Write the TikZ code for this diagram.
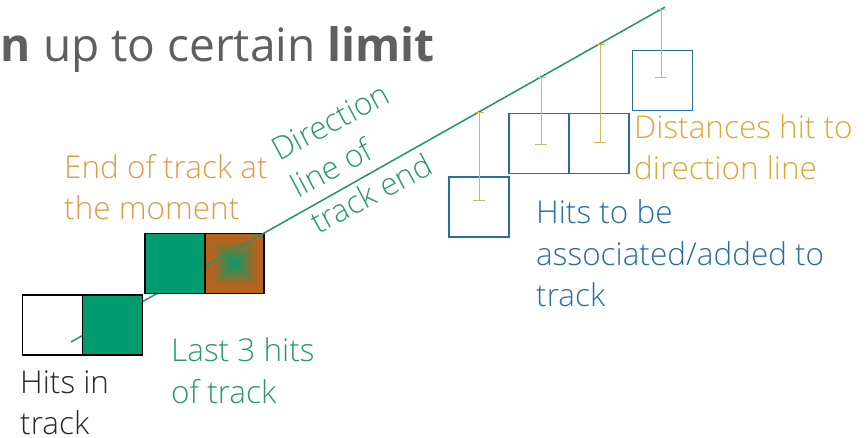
\documentclass[tikz,border=0pt]{standalone}
\usepackage{fontspec}
\setmainfont{Open Sans}
\newfontfamily\lightfont{Open Sans Light}
\usetikzlibrary{arrows.meta,calc}
\definecolor{titlegray}{RGB}{95,95,95}
\definecolor{greenfill}{RGB}{0,156,112}
\definecolor{greenline}{RGB}{30,150,110}
\definecolor{greentext}{RGB}{40,152,115}
\definecolor{orangefill}{RGB}{180,100,30}
\definecolor{orangetext}{RGB}{222,155,75}
\definecolor{yellowtext}{RGB}{222,168,55}
\definecolor{distline}{RGB}{212,182,105}
\definecolor{bluebox}{RGB}{40,110,160}
\definecolor{bluetext}{RGB}{40,110,160}
\definecolor{darktext}{RGB}{45,35,40}
\tikzset{
  hitbox/.style={draw=black, line width=1.5pt, minimum size=60pt, inner sep=0pt, outer sep=0pt},
  greenhit/.style={hitbox, fill=greenfill},
  orangehit/.style={hitbox},
  candbox/.style={draw=bluebox, line width=1.4pt, minimum size=60pt, inner sep=0pt, outer sep=0pt},
  dirline/.style={draw=greenline, line width=1.5pt},
  distbar/.style={draw=distline, line width=1pt, {Bar[width=9pt]}-{Bar[width=12pt]}},
  lbl/.style={inner sep=0pt, anchor=base west, align=left, font=\lightfont\fontsize{31.5}{41.5}\selectfont},
}
\begin{document}
\begin{tikzpicture}[x=1pt, y=-1pt]
\useasboundingbox (0,0) rectangle (868,438);
% title
\node[inner sep=0pt, anchor=base east, text=titlegray, font=\fontsize{46}{54}\selectfont] (title) at (435,62) {\textbf{n} up to certain \textbf{limit}};
% track hits
\node[hitbox] (w) at (52.5,325) {};
\coordinate (oc) at (234,263.5);
\foreach \h in {29.5,28.5,...,0.5}{
  \pgfmathsetmacro{\p}{min(100,\h/22*100)}
  \fill[orangefill!\p!greenfill] ($(oc)+(-\h,-\h)$) rectangle ($(oc)+(\h,\h)$);
}
\node[orangehit] (o) at (oc) {};
\coordinate (ls) at (71,342);
\coordinate (le) at (665,7);
\path[dirline] (ls) -- (le);
\node[greenhit] (g1) at (112.5,325) {};
\node[greenhit] (g2) at (175,263.5) {};
% candidate hits
\node[candbox] (c1) at (479,207) {};
\node[candbox] (c2) at (539,143.5) {};
\node[candbox] (c3) at (599,143.5) {};
\node[candbox] (c4) at (662.5,80.5) {};
% distances
\coordinate (t1) at (479,111.9); \coordinate (b1) at (479,201);
\coordinate (t2) at (541,76.9);  \coordinate (b2) at (541,145);
\coordinate (t3) at (600,43.7);  \coordinate (b3) at (600,143);
\coordinate (t4) at (661,9.2);   \coordinate (b4) at (661,78);
\draw[distbar] (t1) -- (b1);
\draw[distbar] (t2) -- (b2);
\draw[distbar] (t3) -- (b3);
\draw[distbar] (t4) -- (b4);
% labels (anchor = baseline of last line)
\node[lbl, text=orangetext] (endlbl) at (64,220) {End of track at\\the moment};
\node[lbl, text=greentext, rotate=28] (dirlbl) at (318,235) {Direction\\line of\\track end};
\node[lbl, text=greentext] (lastlbl) at (171,403) {Last 3 hits\\of track};
\node[lbl, text=darktext] (inlbl) at (20,435) {Hits in\\track};
\node[lbl, text=yellowtext] (distlbl) at (634,180) {Distances hit to\\direction line};
\node[lbl, text=bluetext] (candlbl) at (536,307) {Hits to be\\associated/added to\\track};
\end{tikzpicture}
\end{document}
